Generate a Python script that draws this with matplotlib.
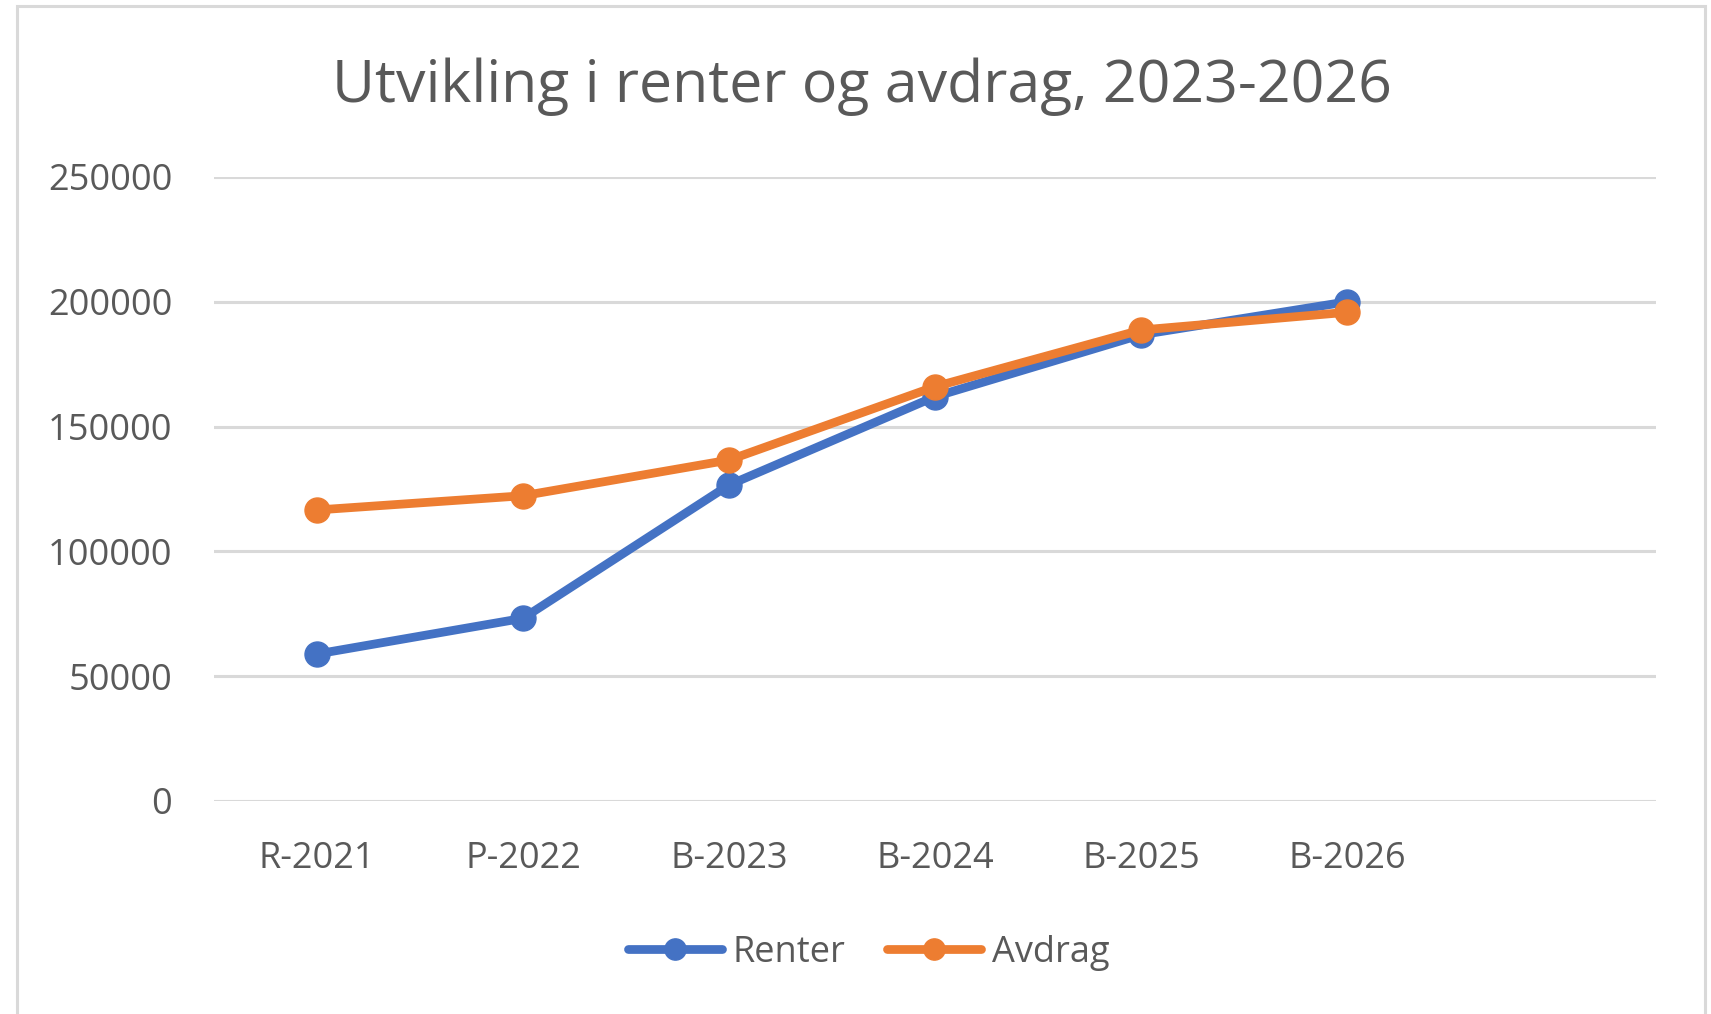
import matplotlib.pyplot as plt
import matplotlib.patches as mpatches

plt.rcParams['font.family'] = ['Open Sans', 'DejaVu Sans']

categories = ['R-2021', 'P-2022', 'B-2023', 'B-2024', 'B-2025', 'B-2026', '']
renter = [58900, 73200, 126600, 162000, 186800, 200000]
avdrag = [116600, 122300, 136600, 166000, 188700, 195800]
yticks = [0, 50000, 100000, 150000, 200000, 250000]

blue = '#4472C4'
orange = '#ED7D31'
txt = '#595959'
grid = '#D9D9D9'

W, H = 1711, 1014
fig = plt.figure(figsize=(W / 100, H / 100), dpi=100)
fig.patch.set_facecolor('white')

# chart-area border (no bottom edge visible)
fig.patches.append(mpatches.Rectangle((17 / W, -0.05), (1705 - 17) / W, 1 - 6 / H + 0.05,
                                      transform=fig.transFigure, fill=False,
                                      edgecolor=grid, linewidth=2.2))

ax = fig.add_axes([214 / W, 1 - 801 / H, (1656 - 214) / W, (801 - 177) / H])
x = list(range(len(categories)))

ax.plot(x[:len(renter)], renter, color=blue, lw=6.3, marker='o', ms=18,
        label='Renter', solid_capstyle='round', zorder=3)
ax.plot(x[:len(avdrag)], avdrag, color=orange, lw=6.3, marker='o', ms=18,
        label='Avdrag', solid_capstyle='round', zorder=4)

ax.set_xlim(-0.5, len(categories) - 0.5)
ax.set_ylim(0, 250000)
ax.set_xticks(x)
ax.set_xticklabels(categories)
ax.set_yticks(yticks)
ax.set_yticklabels([str(v) for v in yticks])
ax.tick_params(axis='both', length=0, labelsize=26, labelcolor=txt)
ax.tick_params(axis='x', pad=29)
ax.tick_params(axis='y', pad=30)
ax.yaxis.grid(True, color=grid, lw=2.2)
ax.set_axisbelow(True)
for s in ax.spines.values():
    s.set_visible(False)

fig.text(862 / W, 1 - 87 / H, 'Utvikling i renter og avdrag, 2023-2026',
         ha='center', va='center', fontsize=42.5, color=txt)

leg = fig.legend(loc='center', bbox_to_anchor=(869 / W, 1 - 953 / H), ncol=2,
                 frameon=False, fontsize=26, handlelength=2.6, handletextpad=0.3,
                 columnspacing=1.15, labelcolor=txt, markerscale=0.85)

fig.savefig('out.png', dpi=100)
